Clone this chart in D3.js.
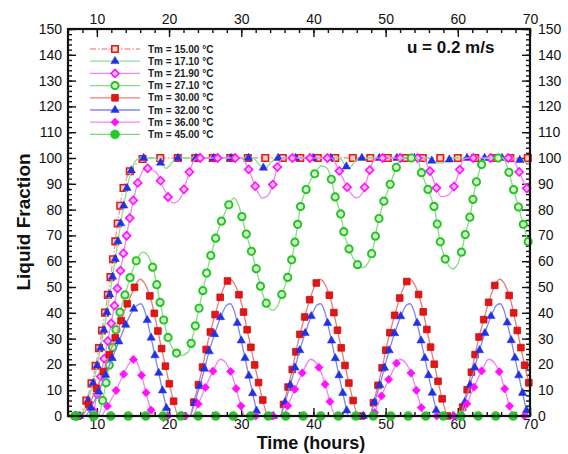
<!DOCTYPE html>
<html>
<head>
<meta charset="utf-8">
<script src="https://cdn.jsdelivr.net/npm/d3@7"></script>
<style>
  body { margin: 0; background: #fff; }
  text { font-family: "Liberation Sans", Arial, sans-serif; }
</style>
</head>
<body>
<svg id="chart" width="568" height="454"></svg>
<script>
// tick values
var xTicks = [10, 20, 30, 40, 50, 60, 70];
var yTicks = [0, 10, 20, 30, 40, 50, 60, 70, 80, 90, 100, 110, 120, 130, 140, 150];

var legendLabels = ['Tm = 15.00 °C', 'Tm = 17.10 °C', 'Tm = 21.90 °C', 'Tm = 27.10 °C',
                    'Tm = 30.00 °C', 'Tm = 32.00 °C', 'Tm = 36.00 °C', 'Tm = 45.00 °C'];

// [time (h), liquid fraction (%)]
var tm1500 = [[7.3,0],[8,2.5],[9,10],[10,22],[11,38],[12,56],[13,77],[13.5,86],[14.1,92],[14.8,96],
  [15.9,98.5],[16.6,100],[70,100]];

var tm1710 = [[7.6,0],[8.5,4],[9.5,13],[10.5,26],[11.5,42],[12.5,60],[13.5,78],[14.3,90],[15,97],[15.6,99.5],
  [16.5,100],[17.8,100],[18.7,98.5],[19.6,96],[20.5,98.5],[21.3,100],[31.6,100],[32.5,97.5],[33.3,96],
  [34.2,98.5],[35,100],[43.6,100],[44.3,97.5],[44.9,96],[45.7,98.5],[46.5,100],[55.9,100],[56.7,98.3],
  [57.7,98],[58.7,99.2],[59.5,100],[67.5,100],[68.3,99.5],[69.2,98.5],[70,97.5]];

var tm2190 = [[7.2,0],[9.3,0],[10,8],[11,22],[12,36],[13,52],[14,68],[15,83],[16,93],[16.8,96],[18.2,94.5],
  [19.3,88],[20.6,82.5],[21.6,84.5],[22.3,90],[23,96],[23.6,99.5],[24.3,100],[30,100],[30.7,97.5],
  [31.4,93],[32.1,88],[32.9,84.5],[33.7,85.5],[34.4,90],[35,96.5],[35.6,99.5],[36.2,100],[42.5,100],
  [43.3,96.5],[44.1,92],[44.9,87.5],[45.9,84.5],[46.8,86.5],[47.4,91.5],[48,97],[48.7,100],[55.2,100],
  [55.9,96.5],[56.7,91],[57.7,85],[58.6,85.5],[59.4,88.5],[60.1,94],[60.8,99.5],[61.4,100],[67.6,100],
  [68.2,96.5],[68.9,92],[69.5,88.5],[70,86]];

var tm2710 = [[7.2,0],[10.2,0],[11,9],[12,24],[13,38],[14,48],[15,57],[15.8,62],[16.4,63.5],[17.1,62],
  [17.9,56],[18.9,42],[19.8,31],[20.8,25],[21.8,23.5],[22.7,25],[23.3,31],[24.4,45],[25.5,59],[26.8,72],
  [27.7,78.5],[28.4,82.5],[29,84.5],[29.6,82],[30.6,71.5],[31.9,59],[33,47],[33.7,42.5],[34.3,41],
  [35,42.5],[35.6,47],[36.6,55.5],[37.5,68.5],[38.2,81],[39.1,88.5],[40.2,94],[41.1,97],[41.9,96],
  [42.5,91.5],[43,85],[43.8,78],[44.2,71.5],[44.9,65],[46,59],[46.8,57.5],[47.5,59],[48.3,65.5],
  [48.8,73],[49.5,81],[50.4,88],[51.3,95],[52,99.5],[52.6,100],[54.3,100],[55,94],[55.9,87.5],
  [56.8,80],[57.5,68.5],[58.1,62],[58.7,58.5],[59.3,57],[59.9,58.5],[60.5,63.5],[61,70],[61.7,77.5],
  [62.1,84],[62.6,91],[63.3,97.5],[64,100],[66.2,100],[66.8,97],[67.5,90],[68.3,82],[69.1,74],[70,65]];

var tm3000 = [[7,0],[7.8,0],[9,5],[10,11],[11,18],[12,26],[13,34],[14,42],[15,48.5],[15.6,52],[16,53],
  [16.6,51.5],[17.6,44],[18.6,31],[19.6,18],[20.6,6],[21.3,0],
  [22.9,0],[23.4,5],[24.4,16],[25.4,29],[26.4,39.5],[27.4,48.5],[28,52],[28.4,53],[29,51.5],[30,44],
  [31,31],[32,18],[33,6],[33.7,0],
  [35.4,0],[35.9,5],[36.9,16],[37.9,29],[38.9,39.5],[39.9,48.5],[40.5,52],[40.9,53],[41.5,51.5],
  [42.5,44],[43.5,31],[44.5,18],[45.5,6],[46.2,0],
  [47.8,0],[48.3,5],[49.3,16],[50.3,29],[51.3,39.5],[52.3,48.5],[52.9,52],[53.3,53],[53.9,51.5],
  [54.9,44],[55.9,31],[56.9,18],[57.9,6],[58.6,0],
  [60.3,0],[60.8,5],[61.8,16],[62.8,29],[63.8,39.5],[64.8,48.5],[65.4,52],[65.8,53],[66.4,51.5],
  [67.4,44],[68.4,31],[69.4,18],[70,11]];

var tm3200 = [[7,0],[8.3,0],[9.5,5],[10.5,11],[11.5,18],[12.5,25],[13.5,32],[14.5,38.5],[15.4,42.5],
  [16.1,43.5],[16.6,41],[17.3,33],[18,24],[18.7,15],[19.4,6],[20,0],
  [22.9,0],[23.4,4],[24.4,13],[25.4,23.5],[26.4,32.5],[27.4,40],[28,43],[28.5,43.5],[29,41],[29.7,33],
  [30.4,24],[31.1,15],[31.8,6],[32.4,0],
  [35.4,0],[35.9,4],[36.9,13],[37.9,23.5],[38.9,32.5],[39.9,40],[40.5,43],[41,43.5],[41.5,41],
  [42.2,33],[42.9,24],[43.6,15],[44.3,6],[44.9,0],
  [47.8,0],[48.3,4],[49.3,13],[50.3,23.5],[51.3,32.5],[52.3,40],[52.9,43],[53.4,43.5],[53.9,41],
  [54.6,33],[55.3,24],[56,15],[56.7,6],[57.3,0],
  [60.3,0],[60.8,4],[61.8,13],[62.8,23.5],[63.8,32.5],[64.8,40],[65.4,43],[65.9,43.5],[66.4,41],
  [67.1,33],[67.8,24],[68.5,15],[69.2,6],[69.8,0],[70,0]];

var tm3600 = [[7,0],[10.5,0],[11.5,4],[12.5,9],[13.5,15],[14.5,20.5],[15.2,22],[15.9,18.5],[16.5,12.5],
  [17.1,6],[17.7,1],[18,0],
  [23.2,0],[24.1,5],[25.1,11.5],[26.1,17.5],[27.1,22],[27.9,20.5],[28.7,16],[29.3,10.5],[29.9,4.5],
  [30.4,0.5],[30.6,0],
  [35.7,0],[36.6,5],[37.6,11.5],[38.6,17.5],[39.6,22],[40.4,20.5],[41.2,16],[41.8,10.5],[42.4,4.5],
  [42.9,0.5],[43.1,0],
  [48.1,0],[49,5],[50,11.5],[51,17.5],[52,22],[52.8,20.5],[53.6,16],[54.2,10.5],[54.8,4.5],[55.3,0.5],
  [55.5,0],
  [60.4,0],[61.3,5],[62.3,11.5],[63.3,17.5],[64.3,22],[65.1,20.5],[65.9,16],[66.5,10.5],[67.1,4.5],
  [67.6,0.5],[67.8,0],[70,0]];

var tm4500 = [[7,0],[70,0]];

var seriesData = [tm1500, tm1710, tm2190, tm2710, tm3000, tm3200, tm3600, tm4500];

// look of each series (Tecplot-like)
var looks = [
  {line: '#f09a9a', dash: '6,2,1.5,2', sym: 'square',   fill: '#fbcfc4', stroke: '#e21c1c', sw: 1.6, size: 42},
  {line: '#8fde8f', dash: null,        sym: 'triangle', fill: '#2230e8', stroke: '#2230e8', sw: 0.5, size: 30},
  {line: '#f285f2', dash: null,        sym: 'diamond',  fill: '#ffb8ff', stroke: '#ff10ff', sw: 1.6, size: 32},
  {line: '#86dd86', dash: null,        sym: 'circle',   fill: '#d4f7cc', stroke: '#22c422', sw: 1.9, size: 42},
  {line: '#ee7a7a', dash: null,        sym: 'square',   fill: '#e51515', stroke: '#c41010', sw: 0.8, size: 44},
  {line: '#7f86f2', dash: null,        sym: 'triangle', fill: '#2230e8', stroke: '#2230e8', sw: 0.5, size: 30},
  {line: '#f285f2', dash: null,        sym: 'diamond',  fill: '#ff10ff', stroke: '#ff10ff', sw: 0.6, size: 34},
  {line: '#7ad87a', dash: null,        sym: 'circle',   fill: '#22cc22', stroke: '#22cc22', sw: 0.5, size: 64}
];

var margin = {top: 29, right: 38, bottom: 38, left: 68},
    width = 568 - margin.left - margin.right,
    height = 454 - margin.top - margin.bottom;

var svg = d3.select('#chart');
var g = svg.append('g').attr('transform', 'translate(' + margin.left + ',' + margin.top + ')');

var x = d3.scaleLinear().domain([6, 70]).range([0, width]);
var y = d3.scaleLinear().domain([0, 150]).range([height, 0]);

var minorX = d3.range(6, 70.1, 2), minorY = d3.range(0, 150.1, 2);

function symbolPath(kind, size) {
  var t = kind === 'square' || kind === 'diamond' ? d3.symbolSquare
        : kind === 'triangle' ? d3.symbolTriangle : d3.symbolCircle;
  return d3.symbol().type(t).size(size)();
}

// axes, ticks pointing inward
function addAxis(axisFn, ticks, minor, transform, pad) {
  var major = g.append('g').attr('transform', transform)
    .call(axisFn.tickValues(ticks).tickSize(-8).tickSizeOuter(0).tickPadding(pad)
      .tickFormat(d3.format('d')));
  var mi = g.append('g').attr('transform', transform)
    .call(axisFn.tickValues(minor).tickSize(-4).tickSizeOuter(0).tickFormat(''));
  [major, mi].forEach(function(a) {
    a.select('.domain').remove();
    a.selectAll('line').attr('stroke', '#111').attr('stroke-width', 1.4);
    a.selectAll('text').attr('font-size', 14).attr('fill', '#111');
  });
}
addAxis(d3.axisBottom(x), xTicks, minorX, 'translate(0,' + height + ')', 3);
addAxis(d3.axisTop(x), xTicks, minorX, 'translate(0,0)', 5);
addAxis(d3.axisLeft(y), yTicks, minorY, 'translate(0,0)', 6);
addAxis(d3.axisRight(y), yTicks, minorY, 'translate(' + width + ',0)', 8);

var line = d3.line()
    .x(function(d) { return x(d[0]); })
    .y(function(d) { return y(d[1]); })
    .curve(d3.curveMonotoneX);

// symbols are spaced along the curve at a fixed screen distance
function markerPoints(node, spacing) {
  var total = node.getTotalLength(), pts = [], last = null;
  for (var l = 0; l <= total; l += 0.5) {
    var p = node.getPointAtLength(l);
    if (!last || Math.hypot(p.x - last.x, p.y - last.y) >= spacing) { pts.push(p); last = p; }
  }
  return pts;
}

seriesData.forEach(function(data, i) {
  var lk = looks[i];
  var path = g.append('path')
    .datum(data)
    .attr('d', line)
    .attr('fill', 'none')
    .attr('stroke', lk.line)
    .attr('stroke-width', 1.3)
    .attr('stroke-dasharray', lk.dash);

  var pts = markerPoints(path.node(), 17.5);
  g.append('g').selectAll('path')
    .data(pts)
    .enter().append('path')
      .attr('d', symbolPath(lk.sym, lk.size))
      .attr('transform', function(p) {
        return 'translate(' + p.x + ',' + p.y + ')' + (lk.sym === 'diamond' ? ' rotate(45)' : '');
      })
      .attr('fill', lk.fill)
      .attr('stroke', lk.stroke)
      .attr('stroke-width', lk.sw);
});

// frame
g.append('rect')
  .attr('width', width).attr('height', height)
  .attr('fill', 'none').attr('stroke', '#111').attr('stroke-width', 2.2);

// legend
var legend = svg.append('g').attr('transform', 'translate(90,49)');
var row = legend.selectAll('g').data(legendLabels)
  .enter().append('g')
    .attr('transform', function(d, i) { return 'translate(0,' + (i * 12.2) + ')'; });
row.append('line')
  .attr('x1', 0).attr('x2', 50)
  .attr('stroke', function(d, i) { return looks[i].line; })
  .attr('stroke-width', 1.3)
  .attr('stroke-dasharray', function(d, i) { return looks[i].dash; });
row.append('path')
  .attr('d', function(d, i) { return symbolPath(looks[i].sym, looks[i].size); })
  .attr('transform', function(d, i) { return 'translate(25,0)' + (looks[i].sym === 'diamond' ? ' rotate(45)' : ''); })
  .attr('fill', function(d, i) { return looks[i].fill; })
  .attr('stroke', function(d, i) { return looks[i].stroke; })
  .attr('stroke-width', function(d, i) { return looks[i].sw; });
row.append('text')
  .attr('x', 58).attr('dy', '0.35em')
  .attr('font-size', 10).attr('font-weight', 'bold').attr('fill', '#222')
  .text(function(d) { return d; });

svg.append('text')
  .attr('x', 407).attr('y', 53)
  .attr('font-size', 17).attr('font-weight', 'bold').attr('fill', '#111')
  .text('u = 0.2 m/s');

svg.append('text')
  .attr('x', 311).attr('y', 449)
  .attr('text-anchor', 'middle')
  .attr('font-size', 18).attr('font-weight', 'bold').attr('fill', '#111')
  .text('Time (hours)');

svg.append('text')
  .attr('transform', 'translate(30,222) rotate(-90)')
  .attr('text-anchor', 'middle')
  .attr('font-size', 19).attr('font-weight', 'bold').attr('fill', '#111')
  .text('Liquid Fraction');
</script>
</body>
</html>
